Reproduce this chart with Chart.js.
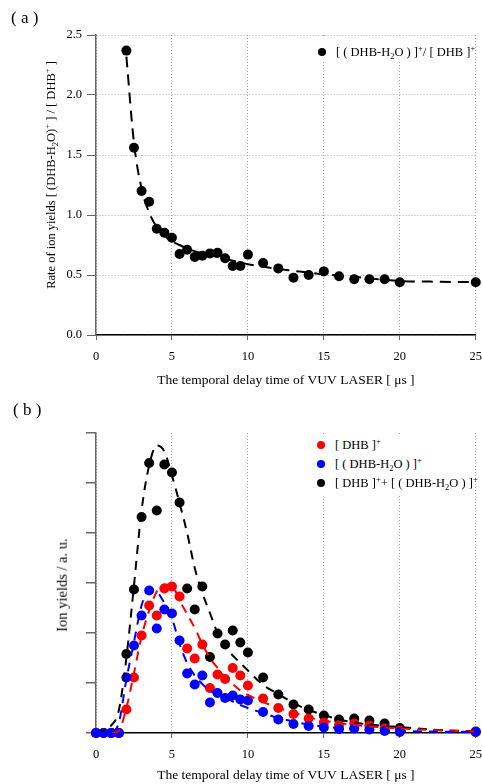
<!DOCTYPE html>
<html><head><meta charset="utf-8">
<script src="https://cdn.jsdelivr.net/npm/chart.js@4.4.0/dist/chart.umd.min.js"></script>
<style>
html,body{margin:0;padding:0;background:#fff;}
body{width:482px;height:784px;position:relative;overflow:hidden;font-family:"Liberation Serif","Times New Roman",serif;color:#000;}
.panel{position:absolute;left:0;width:491px;height:392px;}
#pa{top:0}
#pb{top:392px}
.lbl{position:absolute;font-size:17px;white-space:nowrap;line-height:1;}
.ytitle{position:absolute;white-space:nowrap;font-size:12.5px;line-height:1;transform:translate(-50%,-50%) rotate(-90deg);}
.lgbox{position:absolute;background:#fff;}
.lgtxt{position:absolute;font-size:12.5px;white-space:nowrap;line-height:1;transform:translateY(-50%);}
.dot{position:absolute;width:8px;height:8px;border-radius:50%;transform:translate(-50%,-50%);}
sub,sup{font-size:68%;line-height:0;}
</style></head>
<body>
<div class="panel" id="pa"><canvas id="ca" width="491" height="392"></canvas></div>
<div class="panel" id="pb"><canvas id="cb" width="491" height="392"></canvas></div>

<div class="lbl" style="left:11px;top:9px;">( a )</div>
<div class="lbl" style="left:13px;top:401px;">( b )</div>

<div class="ytitle" style="left:51px;top:175px;">Rate of ion yields [ (DHB-H<sub>2</sub>O)<sup>+</sup> ] / [ DHB<sup>+</sup> ]</div>
<div class="ytitle" style="left:62px;top:585px;font-size:14.5px;">Ion yields / a. u.</div>

<div class="lgbox" style="left:308px;top:37px;width:165px;height:25px;"></div>
<div class="dot" style="left:322px;top:52px;background:#000;"></div>
<div class="lgtxt" style="left:336px;top:52px;">[ ( DHB-H<sub>2</sub>O ) ]<sup>+</sup>/ [ DHB ]<sup>+</sup></div>

<div class="lgbox" style="left:308px;top:434px;width:165px;height:60px;"></div>
<div class="dot" style="left:321px;top:445px;background:#ff0000;"></div>
<div class="lgtxt" style="left:335px;top:445px;">[ DHB ]<sup>+</sup></div>
<div class="dot" style="left:321px;top:464px;background:#0000ff;"></div>
<div class="lgtxt" style="left:335px;top:464px;">[ ( DHB-H<sub>2</sub>O ) ]<sup>+</sup></div>
<div class="dot" style="left:321px;top:483px;background:#000;"></div>
<div class="lgtxt" style="left:335px;top:483px;">[ DHB ]<sup>+</sup>+ [ ( DHB-H<sub>2</sub>O ) ]<sup>+</sup></div>

<script>
// ---------- Panel (a): ratio ----------
const ratioX = [2, 2.5, 3, 3.5, 4, 4.5, 5, 5.5, 6, 6.5, 7, 7.5, 8, 8.5, 9, 9.5, 10, 11, 12, 13, 14, 15, 16, 17, 18, 19, 20, 25];
const ratioY = [2.37, 1.56, 1.20, 1.11, 0.886, 0.853, 0.81, 0.675, 0.71, 0.65, 0.66, 0.68, 0.686, 0.64, 0.575, 0.575, 0.67, 0.60, 0.555, 0.478, 0.50, 0.53, 0.49, 0.464, 0.464, 0.464, 0.44, 0.44];
const ratioFitX = [2, 2.5, 3, 3.5, 4, 4.5, 5, 5.5, 6, 7, 8, 9, 10, 11, 12, 13, 14, 15, 16, 17, 18, 19, 20, 22, 25];
const ratioFitY = [2.32, 1.60, 1.22, 1.02, 0.90, 0.83, 0.78, 0.75, 0.72, 0.68, 0.65, 0.62, 0.59, 0.57, 0.55, 0.535, 0.52, 0.505, 0.495, 0.485, 0.47, 0.46, 0.45, 0.445, 0.44];
const ratioTicks = [0, 0.5, 1.0, 1.5, 2.0, 2.5];

// ---------- Panel (b): ion yields ----------
const yieldX = [0, 0.5, 1, 1.5, 2, 2.5, 3, 3.5, 4, 4.5, 5, 5.5, 6, 6.5, 7, 7.5, 8, 8.5, 9, 9.5, 10, 11, 12, 13, 14, 15, 16, 17, 18, 19, 20, 25];
const dhb    = [0, 0, 0, 0, 0.47, 1.11, 1.95, 2.55, 2.35, 2.89, 2.93, 2.73, 1.69, 1.49, 1.77, 0.90, 1.17, 1.08, 1.30, 1.15, 0.95, 0.69, 0.50, 0.38, 0.29, 0.21, 0.16, 0.19, 0.15, 0.09, 0.05, 0.02];
const dhbH2O = [0, 0, 0, 0, 1.11, 1.75, 2.35, 2.85, 2.09, 2.47, 2.39, 1.85, 1.19, 0.97, 1.15, 0.61, 0.80, 0.70, 0.75, 0.67, 0.65, 0.42, 0.27, 0.18, 0.14, 0.11, 0.08, 0.09, 0.07, 0.04, 0.02, 0.02];
const total  = [0, 0, 0, 0, 1.58, 2.87, 4.32, 5.40, 4.45, 5.37, 5.21, 4.61, 2.89, 2.47, 2.93, 1.52, 1.99, 1.77, 2.05, 1.81, 1.61, 1.11, 0.77, 0.57, 0.47, 0.35, 0.27, 0.29, 0.25, 0.19, 0.10, 0.03];
const fitX      = [0, 0.5, 1, 1.5, 2, 2.5, 3, 3.5, 4, 4.5, 5, 5.5, 6, 6.5, 7, 7.5, 8, 8.5, 9, 9.5, 10, 11, 12, 13, 14, 15, 16, 17, 18, 19, 20, 22, 25];
const dhbFit    = [0, 0, 0, 0.05, 0.50, 1.20, 1.93, 2.45, 2.83, 2.97, 2.95, 2.65, 2.38, 2.10, 1.78, 1.50, 1.30, 1.12, 0.98, 0.85, 0.76, 0.62, 0.50, 0.41, 0.31, 0.25, 0.20, 0.16, 0.13, 0.11, 0.09, 0.06, 0.03];
const dhbH2OFit = [0, 0, 0.02, 0.20, 1.07, 1.82, 2.55, 2.85, 2.82, 2.60, 2.30, 1.78, 1.40, 1.15, 0.98, 0.85, 0.77, 0.71, 0.63, 0.56, 0.50, 0.40, 0.30, 0.23, 0.17, 0.13, 0.10, 0.08, 0.06, 0.05, 0.04, 0.03, 0.02];
const totalFit  = [0, 0.05, 0.15, 0.45, 1.50, 2.95, 4.45, 5.35, 5.75, 5.63, 5.15, 4.60, 4.00, 3.30, 2.80, 2.40, 2.00, 1.72, 1.55, 1.40, 1.25, 0.96, 0.78, 0.60, 0.46, 0.36, 0.27, 0.21, 0.17, 0.14, 0.12, 0.07, 0.03];
const yieldTicks = [0, 1, 2, 3, 4, 5, 6];
const xTicks = [0, 5, 10, 15, 20, 25];
const xTitle = 'The temporal delay time of VUV LASER [ \u03bcs ]';

const zip = (xs, ys) => xs.map((x, i) => ({x: x, y: ys[i]}));
const FONT = '"Liberation Serif", "Times New Roman", serif';
Chart.defaults.font.family = FONT;
Chart.defaults.color = '#000';

function pts(xs, ys, col, order) {
  return {data: zip(xs, ys), showLine: false, pointRadius: 5, pointHoverRadius: 5,
    pointBorderWidth: 0, backgroundColor: col, borderColor: col, order: order, clip: false};
}
function fit(xs, ys, col, dash, order) {
  return {data: zip(xs, ys), showLine: true, pointRadius: 0, pointHoverRadius: 0,
    borderColor: col, backgroundColor: col, borderWidth: 2, borderDash: dash,
    cubicInterpolationMode: 'monotone', fill: false, order: order};
}
function xScale(height, titlePad) {
  return {
    type: 'linear', min: 0, max: 25,
    afterBuildTicks: s => { s.ticks = xTicks.map(v => ({value: v})); },
    ticks: {font: {size: 12.5}, padding: 9, maxRotation: 0, autoSkip: false, color: '#000'},
    grid: {color: '#a8a8a8', lineWidth: 1, tickColor: '#666', tickLength: 5, drawTicks: true},
    border: {color: '#000', width: 1.5, dash: [1, 2]},
    title: {display: true, text: xTitle, font: {size: 13.5}, color: '#000', padding: {top: 0, bottom: titlePad}},
    afterFit: s => { s.height = height; }
  };
}
const common = {
  responsive: false, animation: false, events: [],
  plugins: {legend: {display: false}, tooltip: {enabled: false}}
};

new Chart(document.getElementById('ca'), {
  type: 'scatter',
  data: {datasets: [
    fit(ratioFitX, ratioFitY, '#000', [11, 7], 0),
    pts(ratioX, ratioY, '#000', 1)
  ]},
  options: Object.assign({}, common, {
    layout: {padding: {top: 35, right: 7, left: 0, bottom: 0}},
    scales: {
      x: xScale(57, 3),
      y: {
        type: 'linear', min: 0, max: 2.5,
        afterBuildTicks: s => { s.ticks = ratioTicks.map(v => ({value: v})); },
        ticks: {font: {size: 12.5}, padding: 5, color: '#000', callback: v => v.toFixed(1)},
        grid: {color: '#a8a8a8', lineWidth: 1, tickColor: '#666', tickLength: 9, drawTicks: true},
        border: {color: '#666', width: 1.5, dash: [1, 2]},
        afterFit: s => { s.width = 96; }
      }
    }
  })
});

new Chart(document.getElementById('cb'), {
  type: 'scatter',
  data: {datasets: [
    fit(fitX, dhbH2OFit, '#0000ff', [9, 7], 0),
    fit(fitX, dhbFit, '#ff0000', [9, 7], 1),
    fit(fitX, totalFit, '#000', [9, 7], 2),
    pts(yieldX, dhbH2O, '#0000ff', 3),
    pts(yieldX, dhb, '#ff0000', 4),
    pts(yieldX, total, '#000', 5)
  ]},
  options: Object.assign({}, common, {
    layout: {padding: {top: 41, right: 7, left: 0, bottom: 0}},
    scales: {
      x: xScale(51, 0),
      y: {
        type: 'linear', min: 0, max: 6,
        afterBuildTicks: s => { s.ticks = yieldTicks.map(v => ({value: v})); },
        ticks: {font: {size: 11}, padding: 0, callback: () => ''},
        grid: {drawOnChartArea: false, tickColor: '#666', tickLength: 10, drawTicks: true, lineWidth: 1.5},
        border: {color: '#666', width: 1.5},
        afterFit: s => { s.width = 96; }
      }
    }
  })
});
</script>
</body></html>
